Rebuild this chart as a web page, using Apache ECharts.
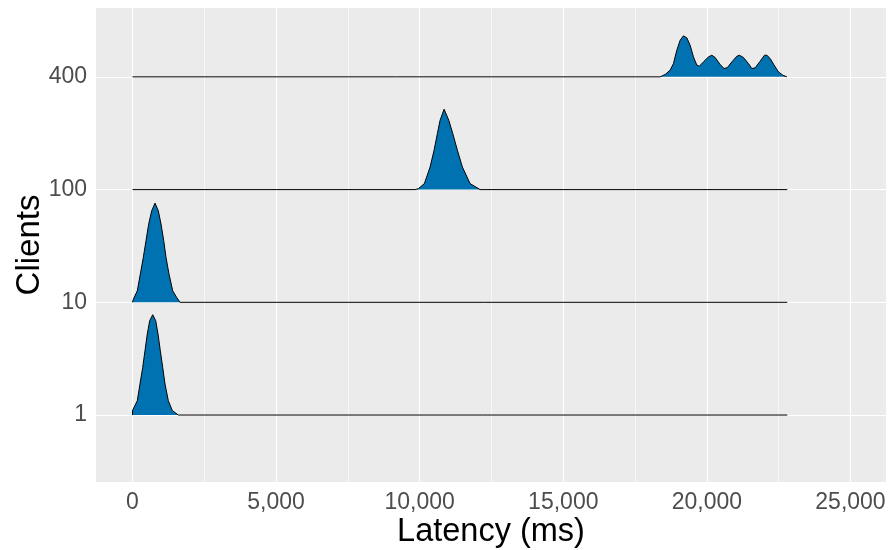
<!DOCTYPE html>
<html>
<head>
<meta charset="utf-8">
<script src="https://cdn.jsdelivr.net/npm/echarts@6/dist/echarts.min.js"></script>
<style>
  html, body { margin: 0; padding: 0; background: #fff; }
  #chart { width: 892px; height: 550px; }
</style>
</head>
<body>
<div id="chart"></div>
<script>
// ridge rows, bottom to top
var clients = ['1', '10', '100', '400'];

// density outline of each ridge: [latency ms, height in row units]
var ridge1 = [[0, 0], [0, 0.04], [167, 0.127], [261, 0.275], [355, 0.422], [435, 0.571], [515, 0.719],
  [599, 0.837], [704, 0.89], [808, 0.837], [888, 0.719], [968, 0.571], [1052, 0.422], [1132, 0.275],
  [1247, 0.127], [1386, 0.04], [1595, 0], [22800, 0]];
var ridge10 = [[0, 0], [30, 0.027], [167, 0.102], [272, 0.25], [376, 0.398], [470, 0.546], [564, 0.694],
  [669, 0.812], [784, 0.88], [899, 0.812], [993, 0.694], [1087, 0.546], [1167, 0.398], [1271, 0.25],
  [1400, 0.102], [1539, 0.043], [1654, 0], [22800, 0]];
var ridge100 = [[0, 0], [9838, 0], [9954, 0.008], [10163, 0.053], [10362, 0.2], [10501, 0.349],
  [10616, 0.497], [10710, 0.615], [10850, 0.713], [11013, 0.615], [11152, 0.497], [11313, 0.349],
  [11487, 0.2], [11755, 0.053], [12103, 0], [22800, 0]];
var ridge400 = [[0, 0], [18372, 0], [18546, 0.021], [18720, 0.059], [18836, 0.118], [18954, 0.237],
  [19069, 0.325], [19184, 0.364], [19302, 0.346], [19417, 0.281], [19532, 0.177], [19650, 0.104],
  [19741, 0.095], [19880, 0.133], [20054, 0.177], [20173, 0.192], [20288, 0.172], [20462, 0.109],
  [20601, 0.074], [20716, 0.083], [20869, 0.133], [21043, 0.183], [21134, 0.192], [21273, 0.172],
  [21448, 0.118], [21566, 0.074], [21681, 0.08], [21855, 0.139], [22005, 0.192], [22088, 0.192],
  [22203, 0.163], [22342, 0.104], [22492, 0.044], [22645, 0.015], [22785, 0], [22800, 0]];
var ridges = [ridge1, ridge10, ridge100, ridge400];

var xTicks = [0, 5000, 10000, 15000, 20000, 25000];
var xMinor = [2500, 7500, 12500, 17500, 22500];
var yTicks = [0, 1, 2, 3];

var chart = echarts.init(document.getElementById('chart'));

function gridLines(vals, key, width) {
  return vals.map(function (v) {
    var d = { lineStyle: { width: width } };
    d[key] = v;
    return d;
  });
}

var series = [{
  // background grid lines
  type: 'line',
  data: [],
  z: 1,
  markLine: {
    z: 1,
    silent: true,
    symbol: ['none', 'none'],
    label: { show: false },
    animation: false,
    lineStyle: { color: '#ffffff', type: 'solid' },
    data: gridLines(xMinor, 'xAxis', 0.6)
      .concat(gridLines(xTicks, 'xAxis', 1.2))
      .concat(gridLines(yTicks, 'yAxis', 1.2))
  }
}];

// top ridge first so lower ridges sit in front
for (var i = ridges.length - 1; i >= 0; i--) {
  series.push({
    type: 'line',
    name: clients[i],
    data: ridges[i].map(function (p) { return [p[0], this.base + p[1]]; }, { base: i }),
    symbol: 'none',
    z: 10 + (ridges.length - i),
    lineStyle: { color: '#000000', width: 1 },
    areaStyle: { color: '#0072B2', opacity: 1, origin: i }
  });
}

chart.setOption({
  animation: false,
  grid: {
    left: 96, right: 6, top: 8, bottom: 68,
    containLabel: false,
    outerBoundsMode: 'none',
    show: true, backgroundColor: '#EBEBEB', borderWidth: 0
  },
  xAxis: {
    type: 'value',
    min: -1271, max: 26237,
    name: 'Latency (ms)',
    nameLocation: 'middle',
    nameMoveOverlap: false,
    nameGap: 34,
    nameTextStyle: { color: '#000', fontSize: 32.5, fontFamily: 'Liberation Sans, Arial' },
    axisLine: { show: false },
    splitLine: { show: false },
    axisTick: { show: true, length: 5, customValues: xTicks, lineStyle: { color: '#333', width: 1 } },
    axisLabel: {
      customValues: xTicks,
      margin: 9,
      color: '#4D4D4D', fontSize: 23, fontFamily: 'Liberation Sans, Arial',
      formatter: function (v) { return v.toLocaleString('en-US'); }
    }
  },
  yAxis: {
    type: 'value',
    min: -0.594, max: 3.611,
    name: 'Clients',
    nameLocation: 'middle',
    nameMoveOverlap: false,
    nameGap: 50,
    nameTextStyle: { color: '#000', fontSize: 33, fontFamily: 'Liberation Sans, Arial' },
    axisLine: { show: false },
    splitLine: { show: false },
    axisTick: { show: true, length: 5, customValues: yTicks, lineStyle: { color: '#333', width: 1 } },
    axisLabel: {
      customValues: yTicks,
      margin: 9,
      color: '#4D4D4D', fontSize: 23, fontFamily: 'Liberation Sans, Arial',
      formatter: function (v) { return clients[Math.round(v)]; }
    }
  },
  series: series
});
</script>
</body>
</html>
